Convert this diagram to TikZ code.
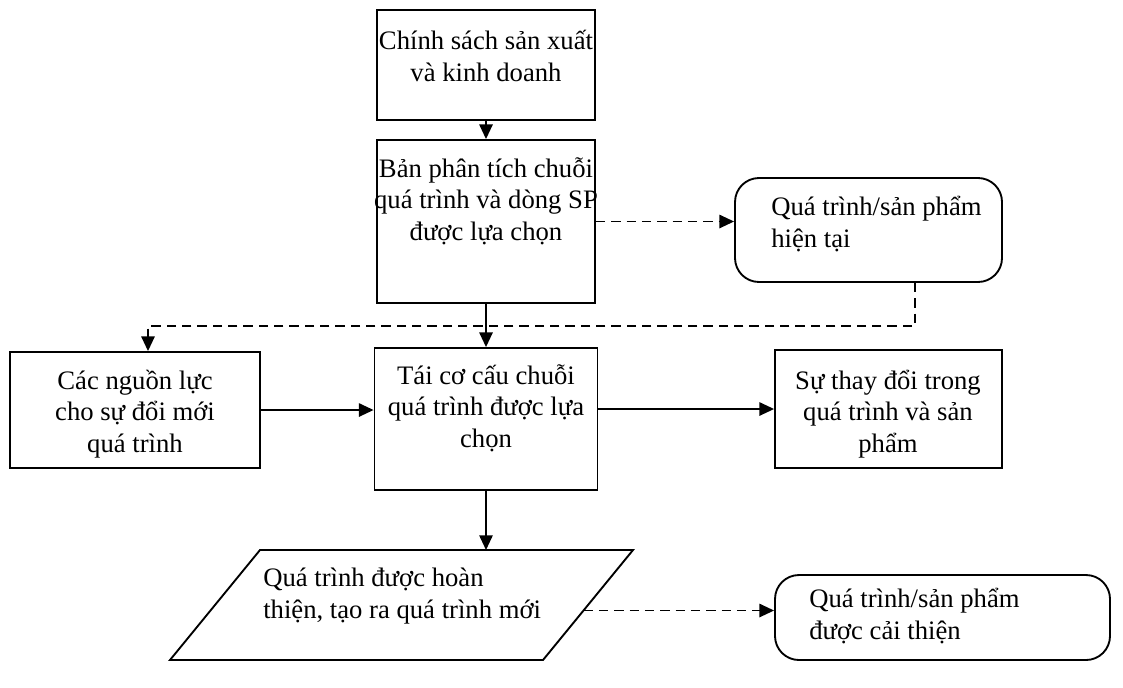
\documentclass[tikz,border=0pt]{standalone}
\usepackage{fontspec}
\setmainfont{Liberation Serif}
\usetikzlibrary{arrows.meta,calc}
\begin{document}
\begin{tikzpicture}[x=0.75pt,y=-0.75pt,
  box/.style={draw, line width=1.4pt, inner sep=0pt},
  rbox/.style={box, rounded corners=18pt},
  txt/.style={inner sep=0pt, font=\fontsize{20}{23.5}\selectfont, align=center},
  ltxt/.style={txt, align=left},
  solidarrow/.style={line width=1.3pt, -{Triangle[length=11pt,width=10pt]}},
  dasharrow/.style={solidarrow, dash pattern=on 7pt off 4.5pt},
]
\useasboundingbox (0,0) rectangle (1123,687);

% boxes of the flow
\node[box, minimum width=218*0.75pt, minimum height=110*0.75pt] (policy) at (486,65) {};
\node[box, minimum width=218*0.75pt, minimum height=163*0.75pt] (analysis) at (486,221.5) {};
\node[rbox, minimum width=267*0.75pt, minimum height=104*0.75pt] (current) at (868.5,230) {};
\node[box, minimum width=250*0.75pt, minimum height=116*0.75pt] (resources) at (135,410) {};
\node[box, minimum width=223*0.75pt, minimum height=142*0.75pt] (restructure) at (486,419) {};
\node[box, minimum width=227*0.75pt, minimum height=118*0.75pt] (changes) at (888.5,409) {};
\node[rbox, minimum width=335*0.75pt, minimum height=85*0.75pt] (improved) at (942.5,617.5) {};

% parallelogram for the improved process
\coordinate (pBL) at (170,660);
\coordinate (pTL) at (260,550);
\coordinate (pTR) at (633,550);
\coordinate (pBR) at (543,660);
\draw[line width=1.4pt, line join=miter] (pBL) -- (pTL) -- (pTR) -- (pBR) -- cycle;

% texts
\node[txt] (policyT) at (486,56) {Chính sách sản xuất\\và kinh doanh};
\node[txt] (analysisT) at (486,201) {Bản phân tích chuỗi\\quá trình và dòng SP\\được lựa chọn};
\node[ltxt, anchor=west] (currentT) at (771,224) {Quá trình/sản phẩm\\hiện tại};
\node[txt] (resourcesT) at (135,414) {Các nguồn lực\\cho sự đổi mới\\quá trình};
\node[txt] (restructureT) at (486,408) {Tái cơ cấu chuỗi\\quá trình được lựa\\chọn};
\node[txt] (changesT) at (888,414) {Sự thay đổi trong\\quá trình và sản\\phẩm};
\node[ltxt, anchor=west] (parT) at (263,596) {Quá trình được hoàn\\thiện, tạo ra quá trình mới};
\node[ltxt, anchor=west] (improvedT) at (809,616) {Quá trình/sản phẩm\\được cải thiện};

% connectors
\draw[solidarrow] (policy.south) -- (analysis.north);
\draw[dasharrow] (analysis.east) -- (analysis.east -| current.west);
\draw[solidarrow] (analysis.south) -- (analysis.south |- restructure.north);
\coordinate (fbStart) at ($(current.south)+(46.5,0)$);
\coordinate (fbEnd) at ($(resources.north)+(13,0)$);
\draw[dasharrow] (fbStart) -- ++(0,43) -| (fbEnd);
\draw[solidarrow] (resources.east) -- (resources.east -| restructure.west);
\draw[solidarrow] (changes.west -| restructure.east) -- (changes.west);
\draw[solidarrow] (restructure.south) -- (restructure.south |- pTL);
\coordinate (pR) at ($(pBR)!0.45!(pTR)$);
\draw[dasharrow] (pR) -- (pR -| improved.west);
\end{tikzpicture}
\end{document}
